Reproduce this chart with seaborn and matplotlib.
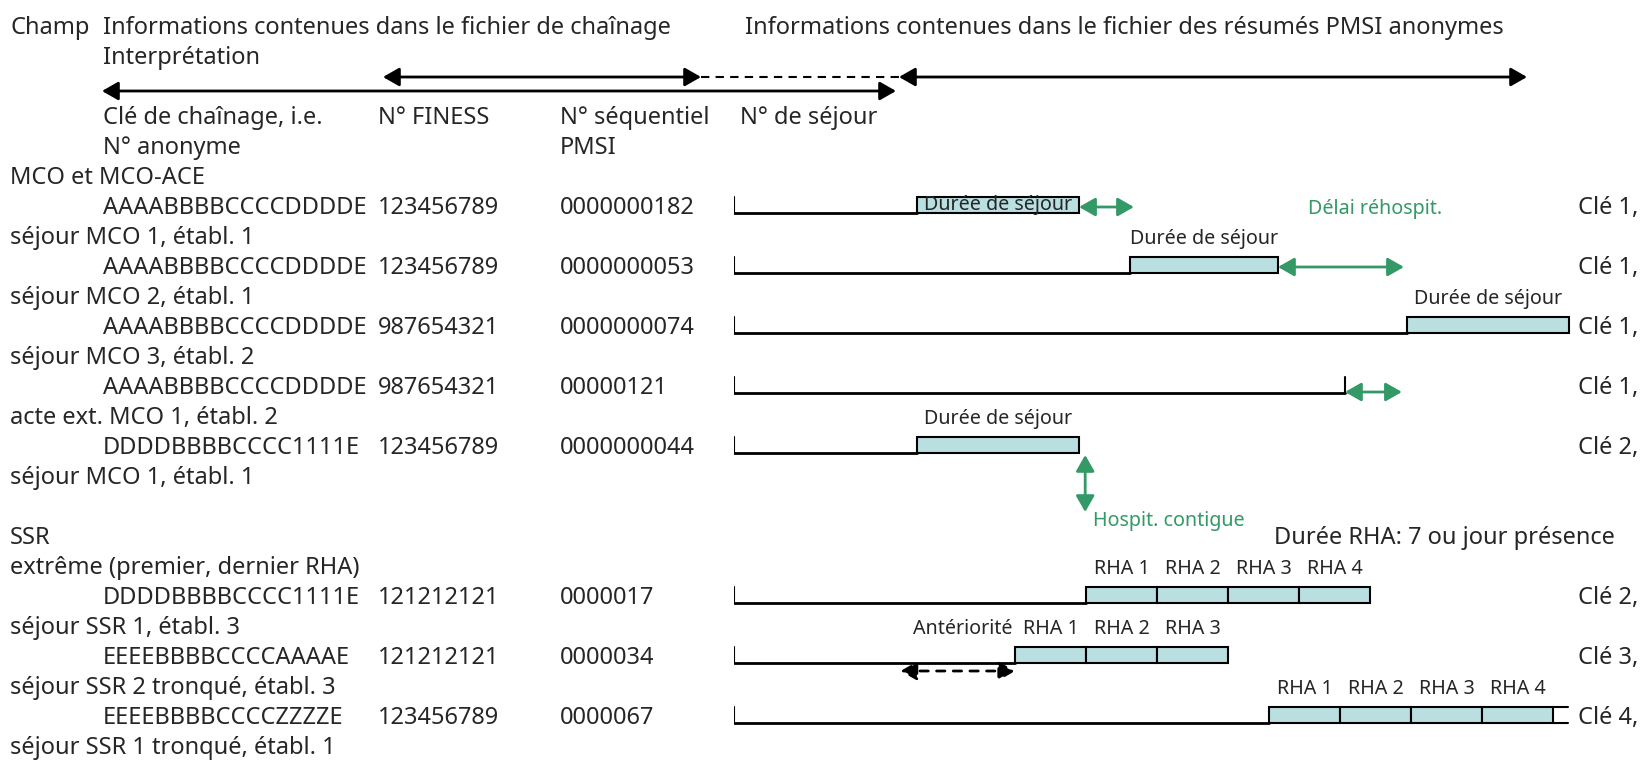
import numpy as np
import pandas as pd
import matplotlib.pyplot as plt
import seaborn as sns

# ---------------- data ----------------
col_titles = ["Clé de chaînage, i.e.", "N° FINESS", "N° séquentiel", "N° de séjour"]
col_titles_2 = ["N° anonyme", "", "PMSI", ""]

mco_keys = ["AAAABBBBCCCCDDDDE", "AAAABBBBCCCCDDDDE", "AAAABBBBCCCCDDDDE",
            "AAAABBBBCCCCDDDDE", "DDDDBBBBCCCC1111E"]
mco_finess = ["123456789", "123456789", "987654321", "987654321", "123456789"]
mco_seq = ["0000000182", "0000000053", "0000000074", "00000121", "0000000044"]
mco_interp = ["séjour MCO 1, établ. 1", "séjour MCO 2, établ. 1", "séjour MCO 3, établ. 2",
              "acte ext. MCO 1, établ. 2", "séjour MCO 1, établ. 1"]
mco_cle = ["Clé 1,", "Clé 1,", "Clé 1,", "Clé 1,", "Clé 2,"]
# timeline in days from origin
mco_start = [18, 39, 66.3, np.nan, 18]        # nan = acte externe, no stay
mco_end = [34, 53.6, 82.3, 60.2, 34]
mco_next = [39.4, 66.0, np.nan, 65.8, np.nan]  # readmission delay arrow end

ssr_keys = ["DDDDBBBBCCCC1111E", "EEEEBBBBCCCCAAAAE", "EEEEBBBBCCCCZZZZE"]
ssr_finess = ["121212121", "121212121", "123456789"]
ssr_seq = ["0000017", "0000034", "0000067"]
ssr_interp = ["séjour SSR 1, établ. 3", "séjour SSR 2 tronqué, établ. 3",
              "séjour SSR 1 tronqué, établ. 1"]
ssr_cle = ["Clé 2,", "Clé 3,", "Clé 4,"]
ssr_start = [34.7, 27.7, 52.7]
ssr_n_rha = [4, 3, 4]
rha_days = 7
anteriorite_start = 16.4

mco = pd.DataFrame(dict(key=mco_keys, finess=mco_finess, seq=mco_seq, interp=mco_interp,
                        cle=mco_cle, start=mco_start, end=mco_end, nxt=mco_next))
ssr = pd.DataFrame(dict(key=ssr_keys, finess=ssr_finess, seq=ssr_seq, interp=ssr_interp,
                        cle=ssr_cle, start=ssr_start, n=ssr_n_rha))

# ---------------- style ----------------
sns.set_theme(style="white")
plt.rcParams["font.family"] = ["Noto Sans", "DejaVu Sans"]
BIG, SMALL = 17, 14.2
GREEN = "#339966"
FILL = "#b9dfe1"

W, H = 1645, 760
fig = plt.figure(figsize=(W / 100, H / 100), dpi=100)
ax = fig.add_axes([0, 0, 1, 1])
ax.set_xlim(0, W)
ax.set_ylim(H, 0)
ax.axis("off")

T0, PX_DAY = 734, 10.15   # timeline origin (px) and scale
ax_t = fig.add_axes([T0 / W, 0, 1 - T0 / W, 1])
ax_t.set_xlim(0, (W - T0) / PX_DAY)
ax_t.set_ylim(H, 0)
ax_t.axis("off")
ax_t.patch.set_alpha(0)


def base(k):
    return 34 + 30 * k


def mid(k):
    return 26 + 30 * k


def put(x, k, s, size=BIG, a=ax, **kw):
    a.text(x, base(k), s, fontsize=size, va="baseline", **kw)


def darrow(a, p1, p2, color="black", ls="-"):
    a.annotate("", xy=p2, xytext=p1,
               arrowprops=dict(arrowstyle="<|-|>,head_length=0.7,head_width=0.4",
                               color=color, lw=2, ls=ls, shrinkA=0, shrinkB=0,
                               mutation_scale=14))


X_LBL, X_KEY, X_FIN, X_SEQ, X_SEJ = 10, 103, 378, 560, 740
X_CLE = 1578

# header
put(X_LBL, 0, "Champ")
put(X_KEY, 0, "Informations contenues dans le fichier de chaînage")
put(745, 0, "Informations contenues dans le fichier des résumés PMSI anonymes")
put(X_KEY, 1, "Interprétation")
for x, t1, t2 in zip([X_KEY, X_FIN, X_SEQ, X_SEJ], col_titles, col_titles_2):
    put(x, 3, t1)
    put(x, 4, t2)

darrow(ax, (383, 77), (701, 77))
ax.plot([701, 899], [77, 77], color="black", lw=1.5, ls=(0, (4, 3)))
darrow(ax, (899, 77), (1527, 77))
darrow(ax, (102, 91), (896, 91))


def timeline_row(k, end):
    y = mid(k)
    ax_t.plot([0, 0], [y - 9, y + 7], color="black", lw=1.5)
    ax_t.plot([0, end], [y + 7, y + 7], color="black", lw=2)


# MCO section
put(X_LBL, 5, "MCO et MCO-ACE")
for i, r in mco.iterrows():
    k = 6 + 2 * i
    put(X_KEY, k, r.key)
    put(X_FIN, k, r.finess)
    put(X_SEQ, k, r.seq)
    put(X_LBL, k + 1, r.interp)
    put(X_CLE, k, r.cle)
    y = mid(k)
    if np.isnan(r.start):
        timeline_row(k, r.end)
        ax_t.plot([r.end, r.end], [y - 9, y + 7], color="black", lw=1.5)
        darrow(ax_t, (r.end, y + 6), (r.nxt, y + 6), GREEN)
        continue
    timeline_row(k, r.start)
    ax_t.barh(y - 1, r.end - r.start, left=r.start, height=16, color=FILL,
              edgecolor="black", linewidth=1.5)
    cx = (r.start + r.end) / 2
    if i == 0:
        ax_t.text(cx, base(k) - 4, "Durée de séjour", fontsize=SMALL, ha="center", va="baseline")
    else:
        put(cx, k - 1, "Durée de séjour", size=SMALL, a=ax_t, ha="center")
    if not np.isnan(r.nxt):
        darrow(ax_t, (r.end, y + 1), (r.nxt, y + 1), GREEN)

ax.text(1308, base(6), "Délai réhospit.", fontsize=SMALL, color=GREEN, va="baseline")
# contiguous hospitalisation arrow
darrow(ax_t, (mco_end[4] + 0.6, mid(14) + 9), (mco_end[4] + 0.6, mid(14) + 66), GREEN)
ax.text(1093, mid(16) + 20, "Hospit. contigue", fontsize=SMALL, color=GREEN, va="baseline")

# SSR section
put(X_LBL, 17, "SSR")
put(1274, 17, "Durée RHA: 7 ou jour présence")
put(X_LBL, 18, "extrême (premier, dernier RHA)")
for i, r in ssr.iterrows():
    k = 19 + 2 * i
    put(X_KEY, k, r.key)
    put(X_FIN, k, r.finess)
    put(X_SEQ, k, r.seq)
    put(X_LBL, k + 1, r.interp)
    put(X_CLE, k, r.cle)
    y = mid(k)
    timeline_row(k, r.start)
    lefts = r.start + rha_days * np.arange(r.n)
    ax_t.barh(np.full(r.n, y - 1), rha_days, left=lefts, height=16, color=FILL,
              edgecolor="black", linewidth=1.5)
    for j, lx in enumerate(lefts):
        put(lx + rha_days / 2, k - 1, f"RHA {j + 1}", size=SMALL, a=ax_t, ha="center")
    if i == 2:
        e = lefts[-1] + rha_days
        ax_t.plot([e, e + 1.5], [y - 9, y - 9], color="black", lw=1.5)
        ax_t.plot([e, e + 1.5], [y + 7, y + 7], color="black", lw=1.5)

# antériorité
put(ssr_start[1] - 0.3, 20, "Antériorité", size=SMALL, a=ax_t, ha="right")
darrow(ax_t, (anteriorite_start, mid(21) + 15), (ssr_start[1], mid(21) + 15), "black", ls=(0, (3, 3)))

fig.savefig("out.png", dpi=100)
